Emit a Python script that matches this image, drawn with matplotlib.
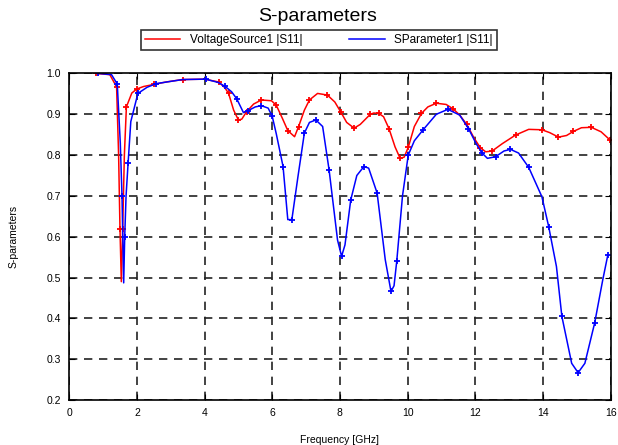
import matplotlib
matplotlib.use('Agg')
import matplotlib.pyplot as plt

plt.rcParams['font.family'] = ['Liberation Sans', 'DejaVu Sans']

# VoltageSource1 |S11|  (red)
red_f = [0.8, 1.2, 1.4, 1.46, 1.50, 1.54, 1.58, 1.63, 1.69, 1.85, 2.0, 2.2, 2.5, 2.86,
         3.35, 4.0, 4.42, 4.6, 4.71, 4.86, 5.0, 5.1, 5.24, 5.45, 5.68, 5.98, 6.12, 6.3,
         6.46, 6.66, 6.78, 6.95, 7.1, 7.34, 7.63, 7.85, 8.03, 8.2, 8.42, 8.6, 8.9, 9.0,
         9.15, 9.29, 9.45, 9.63, 9.78, 9.9, 10.02, 10.2, 10.41, 10.6, 10.85, 11.14, 11.35,
         11.54, 11.75, 11.97, 12.15, 12.31, 12.5, 12.8, 13.19, 13.58, 13.97, 14.2, 14.46,
         14.7, 14.9, 15.14, 15.43, 15.72, 15.97]
red_s = [1.0, 0.997, 0.967, 0.80, 0.62, 0.49, 0.62, 0.80, 0.918, 0.952, 0.962, 0.968, 0.973, 0.979,
         0.985, 0.986, 0.979, 0.965, 0.951, 0.91, 0.886, 0.888, 0.906, 0.925, 0.935, 0.933, 0.922, 0.89,
         0.86, 0.845, 0.87, 0.91, 0.935, 0.951, 0.947, 0.93, 0.905, 0.88, 0.866, 0.875, 0.90, 0.903,
         0.902, 0.894, 0.865, 0.82, 0.792, 0.795, 0.819, 0.87, 0.902, 0.918, 0.927, 0.924, 0.913,
         0.898, 0.875, 0.841, 0.818, 0.808, 0.81, 0.828, 0.849, 0.863, 0.862, 0.855, 0.844,
         0.848, 0.858, 0.867, 0.868, 0.857, 0.838]

# SParameter1 |S11|  (blue)
blue_f = [0.86, 1.25, 1.42, 1.51, 1.56, 1.61, 1.64, 1.68, 1.74, 1.82, 2.03, 2.3, 2.57, 3.35,
          4.03, 4.4, 4.61, 4.8, 4.95, 5.15, 5.29, 5.5, 5.68, 5.88, 6.0, 6.12, 6.32, 6.46,
          6.58, 6.76, 6.95, 7.1, 7.29, 7.49, 7.68, 7.93, 8.05, 8.15, 8.32, 8.5, 8.71, 8.85,
          9.1, 9.34, 9.51, 9.6, 9.68, 9.85, 10.02, 10.2, 10.46, 10.85, 11.19, 11.54, 11.8,
          12.02, 12.2, 12.36, 12.6, 12.85, 13.04, 13.28, 13.58, 13.97, 14.17, 14.4, 14.56,
          14.85, 15.04, 15.24, 15.53, 15.77, 15.92]
blue_s = [1.0, 0.997, 0.974, 0.829, 0.70, 0.487, 0.60, 0.70, 0.78, 0.882, 0.951, 0.966, 0.975, 0.985,
          0.986, 0.978, 0.968, 0.955, 0.938, 0.904, 0.909, 0.918, 0.921, 0.915, 0.895, 0.852, 0.772, 0.642,
          0.642, 0.747, 0.854, 0.88, 0.886, 0.87, 0.764, 0.592, 0.552, 0.58, 0.69, 0.75, 0.772, 0.768,
          0.707, 0.544, 0.466, 0.48, 0.54, 0.70, 0.80, 0.835, 0.862, 0.90, 0.912, 0.898, 0.865,
          0.829, 0.805, 0.792, 0.796, 0.81, 0.814, 0.805, 0.77, 0.698, 0.625, 0.527, 0.405,
          0.29, 0.267, 0.29, 0.389, 0.495, 0.556]

x_ticks = [0, 2, 4, 6, 8, 10, 12, 14, 16]
y_ticks = [0.2, 0.3, 0.4, 0.5, 0.6, 0.7, 0.8, 0.9, 1.0]

fig = plt.figure(figsize=(6.18, 4.45), dpi=100)
ax = fig.add_axes([0.112, 0.101, 0.876, 0.734])

ax.plot(red_f, red_s, color='#ff0000', lw=1.1, marker='+', ms=5, mew=1.3,
        markevery=2, label='VoltageSource1 |S11|')
ax.plot(blue_f, blue_s, color='#0000ff', lw=1.1, marker='+', ms=5, mew=1.3,
        markevery=2, label='SParameter1 |S11|')

ax.set_xlim(0, 16)
ax.set_ylim(0.2, 1.0)
ax.set_xticks(x_ticks)
ax.set_yticks(y_ticks)
ax.set_xticklabels([str(t) for t in x_ticks], fontsize=7.5)
ax.set_yticklabels(['%.1f' % t for t in y_ticks], fontsize=7.5)
ax.tick_params(direction='in', top=True, right=True, length=4, pad=6)
ax.grid(True, color='#222222', linestyle=(0, (5, 4)), lw=1.2)
for s in ax.spines.values():
    s.set_linewidth(1.2)

ax.set_xlabel('Frequency [GHz]', fontsize=7.5, labelpad=12)
ax.set_ylabel('S-parameters', fontsize=7.5, labelpad=20)

fig.text(0.514, 0.964, 'S-parameters', ha='center', va='center', fontsize=14)
leg = fig.legend(loc='center', bbox_to_anchor=(0.516, 0.91), ncol=2, fontsize=8.5,
                 frameon=True, fancybox=False, edgecolor='black', handlelength=3,
                 columnspacing=4, borderpad=0.35, borderaxespad=0)
leg.get_frame().set_linewidth(1.2)
for h in leg.legend_handles:
    h.set_marker('')

fig.savefig('out.png', dpi=100)
